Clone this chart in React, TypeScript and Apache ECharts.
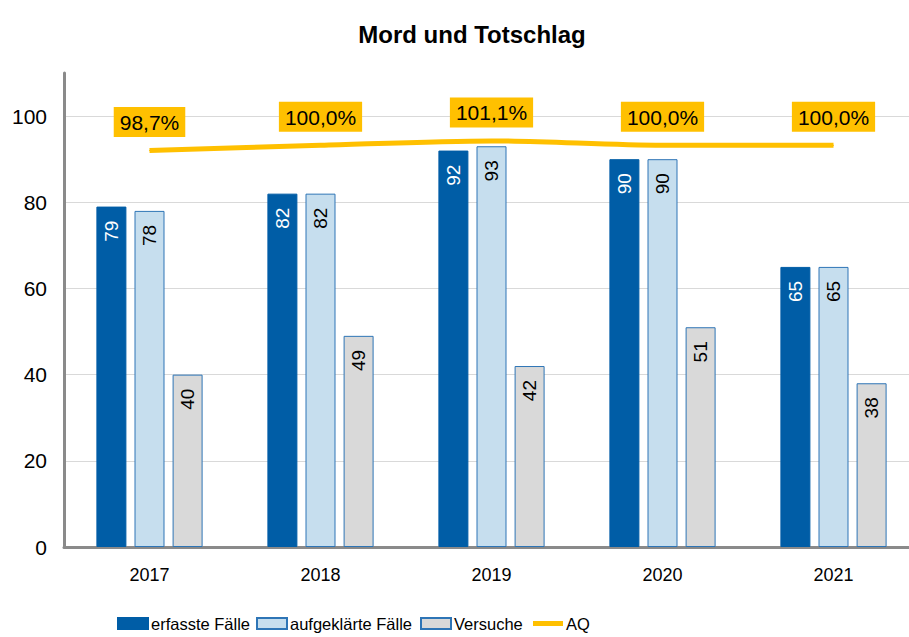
import React, { useEffect, useRef } from "react";
import * as echarts from "echarts";

const years = ["2017", "2018", "2019", "2020", "2021"];
const erfasst = [79, 82, 92, 90, 65];
const aufgeklaert = [78, 82, 93, 90, 65];
const versuche = [40, 49, 42, 51, 38];
const aq = [98.7, 100.0, 101.1, 100.0, 100.0];
const yTicks = [0, 20, 40, 60, 80, 100];

const FONT = "'Liberation Sans', Arial, sans-serif";

export default function App() {
  const ref = useRef<HTMLDivElement>(null);
  useEffect(() => {
    if (!ref.current) return;
    const chart = echarts.init(ref.current, undefined, { renderer: "svg" });
    const barLabel = (color: string) => ({
      show: true,
      position: "insideTop" as const,
      distance: 14,
      rotate: 90,
      align: "right" as const,
      verticalAlign: "middle" as const,
      color,
      fontSize: 19,
      fontFamily: FONT,
    });
    const legendBase = {
      bottom: 5,
      padding: 0,
      itemWidth: 30,
      itemHeight: 11,
      itemGap: 0,
      textStyle: { fontSize: 16.5, fontFamily: FONT, color: "#000", padding: [0, 0, 0, -2] },
    };
    chart.setOption({
      animation: false,
      backgroundColor: "#fff",
      title: {
        text: "Mord und Totschlag",
        left: 467,
        textAlign: "center",
        top: 17,
        textStyle: { fontSize: 24, fontWeight: "bold", fontFamily: FONT, color: "#000" },
      },
      legend: [
        { ...legendBase, left: 117, data: [{ name: "erfasste Fälle", icon: "rect" }] },
        { ...legendBase, left: 256, data: [{ name: "aufgeklärte Fälle", icon: "rect" }] },
        { ...legendBase, left: 420, data: [{ name: "Versuche", icon: "rect" }] },
        { ...legendBase, left: 533, itemHeight: 5, data: [{ name: "AQ", icon: "rect" }] },
      ],
      grid: { left: 64, width: 855, top: 73, bottom: 90, outerBoundsMode: "none", containLabel: false },
      xAxis: {
        type: "category",
        data: years,
        axisLine: { lineStyle: { color: "#8a8a8a", width: 3 } },
        axisTick: { show: false },
        axisLabel: { fontSize: 18, fontFamily: FONT, color: "#000", margin: 19 },
      },
      yAxis: [
        {
          type: "value",
          min: 0,
          max: 110,
          interval: 20,
          axisLine: { show: true, lineStyle: { color: "#8a8a8a", width: 3 } },
          axisTick: { show: false },
          axisLabel: {
            fontSize: 21,
            fontFamily: FONT,
            color: "#000",
            margin: 17,
            formatter: (v: number) => (yTicks.includes(v) ? String(v) : ""),
          },
          splitLine: { show: true, showMaxLine: false, lineStyle: { color: "#d9d9d9", width: 1 } },
        },
        { type: "value", min: 0, max: 118, show: false, splitLine: { show: false } },
      ],
      series: [
        {
          name: "erfasste Fälle",
          type: "bar",
          data: erfasst,
          barWidth: 30,
          barGap: "27%",
          itemStyle: { color: "#005DA6", borderColor: "#005DA6", borderWidth: 1 },
          label: barLabel("#fff"),
        },
        {
          name: "aufgeklärte Fälle",
          type: "bar",
          data: aufgeklaert,
          barWidth: 30,
          barGap: "27%",
          itemStyle: { color: "#C6DEEE", borderColor: "#2E75B6", borderWidth: 1 },
          label: barLabel("#000"),
        },
        {
          name: "Versuche",
          type: "bar",
          data: versuche,
          barWidth: 30,
          barGap: "27%",
          itemStyle: { color: "#D9D9D9", borderColor: "#2E75B6", borderWidth: 1 },
          label: barLabel("#000"),
        },
        {
          name: "AQ",
          type: "line",
          yAxisIndex: 1,
          data: aq,
          smooth: 0.3,
          showSymbol: true,
          symbol: "circle",
          symbolSize: 1,
          lineStyle: { color: "#FFC000", width: 5 },
          itemStyle: { color: "#FFC000" },
          label: {
            show: true,
            position: "top",
            distance: 13,
            backgroundColor: "#FFC000",
            padding: [5, 6, 4, 6],
            color: "#000",
            fontSize: 21,
            fontFamily: FONT,
            formatter: (p: any) => p.value.toFixed(1).replace(".", ",") + "%",
          },
        },
      ],
    });
    return () => chart.dispose();
  }, []);
  return (
    <div
      ref={ref}
      style={{ position: "fixed", left: 0, top: 0, width: 909, height: 637, background: "#fff" }}
    />
  );
}
